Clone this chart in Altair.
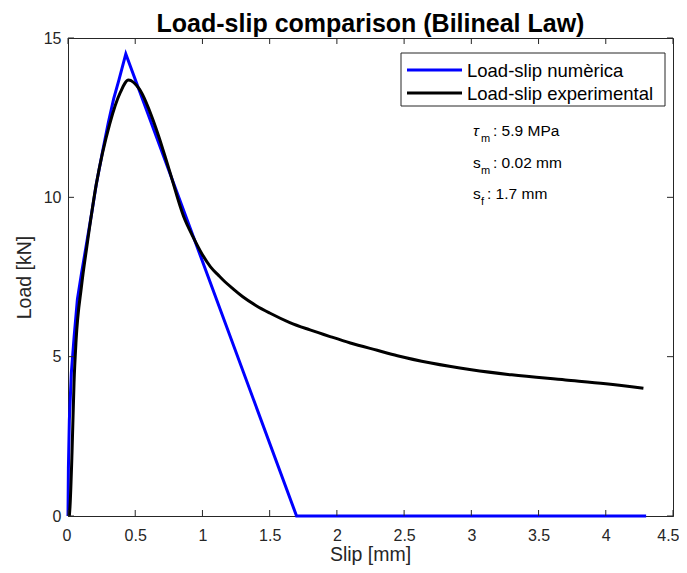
import altair as alt
import pandas as pd

# ---- data ----
num_slip = [0.0, 0.003, 0.01, 0.025, 0.045, 0.07, 0.10, 0.14, 0.18, 0.21, 0.26, 0.30,
            0.34, 0.38, 0.43, 1.70, 4.30]
num_load = [0.0, 1.5, 3.0, 4.5, 5.6, 6.8, 7.6, 8.6, 9.6, 10.4, 11.5, 12.35,
            13.1, 13.7, 14.5, 0.0, 0.0]

exp_slip = [0.010, 0.015, 0.030, 0.045, 0.060, 0.10, 0.14, 0.21, 0.31, 0.39, 0.45,
            0.53, 0.66, 0.75, 0.86, 0.93, 1.00, 1.06, 1.12, 1.15, 1.23, 1.30, 1.40, 1.50,
            1.65, 1.80, 1.95, 2.10, 2.30, 2.45, 2.70, 3.00, 3.30, 3.70, 4.00, 4.28]
exp_load = [0.0, 0.3, 2.0, 4.2, 5.5, 7.2, 8.45, 10.4, 12.3, 13.3, 13.68,
            13.4, 12.1, 10.9, 9.4, 8.76, 8.2, 7.82, 7.55, 7.42, 7.12, 6.88, 6.60, 6.37,
            6.07, 5.84, 5.63, 5.43, 5.2, 5.03, 4.80, 4.59, 4.43, 4.27, 4.15, 4.01]

series_names = ["Load-slip numèrica", "Load-slip experimental"]
series_colors = ["#0000ff", "#000000"]

x_ticks = [0, 0.5, 1, 1.5, 2, 2.5, 3, 3.5, 4, 4.5]
y_ticks = [0, 5, 10, 15]

title_text = "Load-slip comparison (Bilineal Law)"
x_title = "Slip [mm]"
y_title = "Load [kN]"

ann_symbols = ["τ", "s", "s"]
ann_subs = ["m", "m", "f"]
ann_values = [": 5.9 MPa", ": 0.02 mm", ": 1.7 mm"]

# ---- build tables ----
df_num = pd.DataFrame({"slip": num_slip, "load": num_load, "series": series_names[0]})
df_exp = pd.DataFrame({"slip": exp_slip, "load": exp_load, "series": series_names[1]})

W, H = 605, 478
FONT = "Liberation Sans"
AX = "#262626"

xscale = alt.Scale(domain=[0, 4.5], nice=False, zero=False)
yscale = alt.Scale(domain=[0, 15], nice=False, zero=False)

xenc = alt.X("slip:Q", scale=xscale, title=None,
             axis=alt.Axis(values=x_ticks, format="~g", labelFlush=True,
                           labelFlushOffset=6, labelOverlap=False))
yenc = alt.Y("load:Q", scale=yscale, title=y_title,
             axis=alt.Axis(values=y_ticks, format="~g", labelFlush=False,
                           labelOverlap=False))

line_num = alt.Chart(df_num).mark_line(strokeWidth=3, color=series_colors[0]).encode(
    x=xenc, y=yenc)
line_exp = alt.Chart(df_exp).mark_line(strokeWidth=3, color=series_colors[1],
                                        interpolate="monotone").encode(x=xenc, y=yenc)

xt = pd.DataFrame({"t": x_ticks})
yt = pd.DataFrame({"t": y_ticks})
tick_bottom = alt.Chart(xt).mark_rule(color=AX, strokeWidth=1).encode(
    x=alt.X("t:Q", scale=xscale), y=alt.value(H), y2=alt.value(H - 6))
tick_top = alt.Chart(xt).mark_rule(color=AX, strokeWidth=1).encode(
    x=alt.X("t:Q", scale=xscale), y=alt.value(0), y2=alt.value(6))
tick_left = alt.Chart(yt).mark_rule(color=AX, strokeWidth=1).encode(
    y=alt.Y("t:Q", scale=yscale), x=alt.value(0), x2=alt.value(6))
tick_right = alt.Chart(yt).mark_rule(color=AX, strokeWidth=1).encode(
    y=alt.Y("t:Q", scale=yscale), x=alt.value(W), x2=alt.value(W - 6))

layers = [line_num, line_exp, tick_bottom, tick_top, tick_left, tick_right]

one = pd.DataFrame({"a": [0]})

# title and x-axis title as text marks (exact placement)
layers.append(alt.Chart(one).mark_text(
    text=title_text, font=FONT, fontSize=25, fontWeight="bold", align="center",
    baseline="alphabetic", color="#000000").encode(x=alt.value(W / 2), y=alt.value(-6.5)))
layers.append(alt.Chart(one).mark_text(
    text=x_title, font=FONT, fontSize=19.5, align="center",
    baseline="alphabetic", color=AX).encode(x=alt.value(W / 2), y=alt.value(H + 45)))

# legend box (drawn with marks for exact placement)
LX0, LX1, LY0, LY1 = 333, 597, 15, 68
layers.append(alt.Chart(one).mark_rect(fill="#ffffff", stroke=AX, strokeWidth=1).encode(
    x=alt.value(LX0), x2=alt.value(LX1), y=alt.value(LY0), y2=alt.value(LY1)))
for i, (name, col) in enumerate(zip(series_names, series_colors)):
    ry = 32 + i * 23
    layers.append(alt.Chart(one).mark_rule(color=col, strokeWidth=3).encode(
        x=alt.value(339), x2=alt.value(394), y=alt.value(ry)))
    layers.append(alt.Chart(one).mark_text(
        text=name, font=FONT, fontSize=18.5, align="left", baseline="middle",
        color="#000000").encode(x=alt.value(399), y=alt.value(ry + 1)))

# parameter annotations
for i, (sym, sub, val) in enumerate(zip(ann_symbols, ann_subs, ann_values)):
    base_y = 98 + i * 31.5
    rest_x = 425 if sub == "m" else 419
    layers.append(alt.Chart(one).mark_text(
        text=sym, font=FONT, fontSize=15.5, align="left", baseline="alphabetic",
        fontStyle="italic" if sym == "τ" else "normal", color="#000000").encode(
        x=alt.value(405), y=alt.value(base_y)))
    layers.append(alt.Chart(one).mark_text(
        text=sub, font=FONT, fontSize=11, align="left", baseline="alphabetic",
        color="#000000").encode(x=alt.value(413), y=alt.value(base_y + 6)))
    layers.append(alt.Chart(one).mark_text(
        text=val, font=FONT, fontSize=15.5, align="left", baseline="alphabetic",
        color="#000000").encode(x=alt.value(rest_x), y=alt.value(base_y)))

chart = alt.layer(*layers).properties(
    width=W, height=H,
    autosize=alt.AutoSizeParams(type="none"),
    padding={"left": 60, "top": 30, "right": 6, "bottom": 49},
).configure_view(stroke=AX, strokeWidth=1).configure_axis(
    grid=False, ticks=False, domainColor=AX, domainWidth=1,
    labelFont=FONT, labelFontSize=16, labelColor=AX,
    titleFont=FONT, titleFontSize=19.5, titleColor=AX, titleFontWeight="normal",
).configure_axisX(labelPadding=11).configure_axisY(
    labelPadding=7, titlePadding=9)

chart.save("out.html", embed_options={"renderer": "svg", "actions": False})
